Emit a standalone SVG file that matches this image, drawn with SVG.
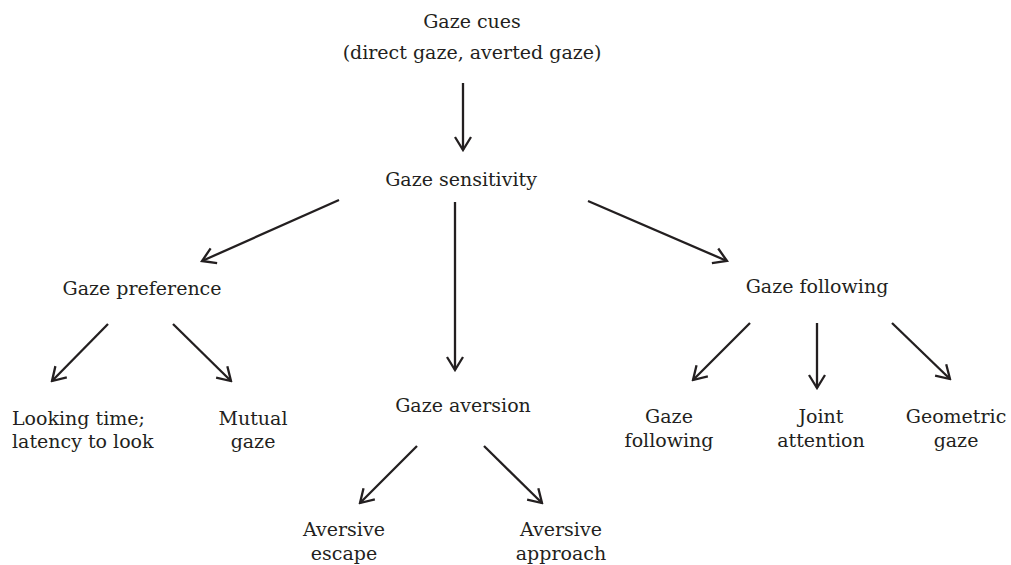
<svg xmlns="http://www.w3.org/2000/svg" width="1011" height="565" viewBox="0 0 1011 565">
<defs>
<marker id="ah" markerUnits="userSpaceOnUse" viewBox="0 0 16 20" refX="14" refY="10" markerWidth="16" markerHeight="20" orient="auto">
<path d="M1,2 L14,10 L1,18" fill="none" stroke="#231f20" stroke-width="2.3"/>
</marker>
<style>
text{font-family:"DejaVu Serif","Liberation Serif",serif;font-size:19px;fill:#231f20;text-anchor:middle}
.l{text-anchor:start}
line{stroke:#231f20;stroke-width:2.3;marker-end:url(#ah)}
</style>
</defs>
<rect width="1011" height="565" fill="#fff"/>
<g id="connectors">
<line x1="463" y1="83" x2="463" y2="150"/>
<line x1="339" y1="200" x2="202" y2="261"/>
<line x1="455" y1="202" x2="455" y2="370"/>
<line x1="588" y1="201" x2="727" y2="261"/>
<line x1="108" y1="324" x2="52" y2="381"/>
<line x1="173" y1="324" x2="231" y2="381"/>
<line x1="417" y1="446" x2="360" y2="503"/>
<line x1="484" y1="446" x2="542" y2="503"/>
<line x1="750" y1="323" x2="693" y2="380"/>
<line x1="817" y1="323" x2="817" y2="388"/>
<line x1="892" y1="323" x2="950" y2="379"/>
</g>
<g id="gaze-cues"><text x="472" y="28">Gaze cues</text><text x="472" y="59">(direct gaze, averted gaze)</text></g>
<g id="gaze-sensitivity"><text x="461" y="186">Gaze sensitivity</text></g>
<g id="gaze-preference"><text x="142" y="295">Gaze preference</text></g>
<g id="gaze-aversion"><text x="463" y="412">Gaze aversion</text></g>
<g id="gaze-following"><text x="817" y="293">Gaze following</text></g>
<g id="looking-time"><text class="l" x="12" y="425">Looking time;</text><text class="l" x="12" y="448">latency to look</text></g>
<g id="mutual-gaze"><text x="253" y="425">Mutual</text><text x="253" y="448">gaze</text></g>
<g id="aversive-escape"><text x="344" y="536">Aversive</text><text x="344" y="560">escape</text></g>
<g id="aversive-approach"><text x="561" y="536">Aversive</text><text x="561" y="560">approach</text></g>
<g id="gaze-following-2"><text x="669" y="423">Gaze</text><text x="669" y="447">following</text></g>
<g id="joint-attention"><text x="821" y="423">Joint</text><text x="821" y="447">attention</text></g>
<g id="geometric-gaze"><text x="956" y="423">Geometric</text><text x="956" y="447">gaze</text></g>
</svg>
